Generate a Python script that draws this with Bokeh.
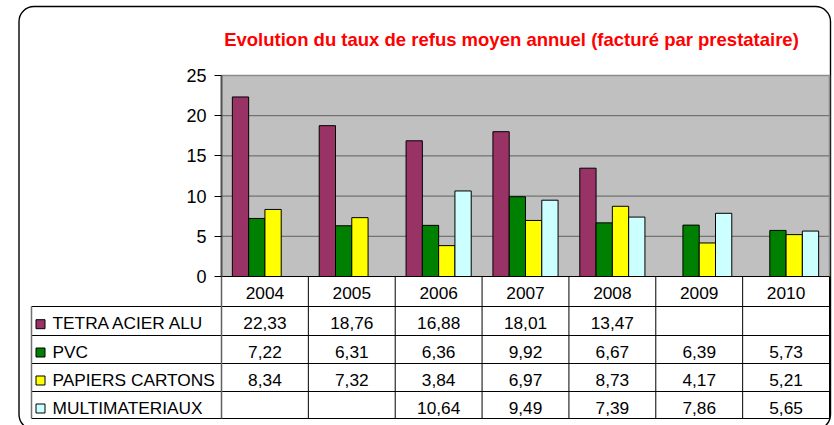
from bokeh.plotting import figure
from bokeh.models import Range1d, LinearAxis, FixedTicker, ColumnDataSource, BoxAnnotation
from bokeh.core.properties import value
from bokeh.transform import dodge
from bokeh.embed import file_html
from bokeh.resources import INLINE

# ---------------- data ----------------
years = ["2004", "2005", "2006", "2007", "2008", "2009", "2010"]
series_names = ["TETRA ACIER ALU", "PVC", "PAPIERS CARTONS", "MULTIMATERIAUX"]
tetra = [22.33, 18.76, 16.88, 18.01, 13.47, None, None]
pvc = [7.22, 6.31, 6.36, 9.92, 6.67, 6.39, 5.73]
papiers = [8.34, 7.32, 3.84, 6.97, 8.73, 4.17, 5.21]
multi = [None, None, 10.64, 9.49, 7.39, 7.86, 5.65]
y_ticks = [0, 5, 10, 15, 20, 25]
title_text = "Evolution du taux de refus moyen annuel (facturé par prestataire)"

series = [tetra, pvc, papiers, multi]
colors = ["#993366", "#008000", "#FFFF00", "#CCFFFF"]

# ---------------- layout (pixels of the figure) ----------------
W, H = 834, 425
PX_LEFT, PX_RIGHT = 221, 829          # plot area
PY_TOP, PY_ZERO = 75, 276             # y=25 and y=0
n = len(years)
xs = (PX_RIGHT - PX_LEFT) / n         # px per category
ymax = y_ticks[-1]
ys = (PY_ZERO - PY_TOP) / ymax        # px per unit

def X(px):
    return (px - PX_LEFT) / xs

def Y(py):
    return (PY_ZERO - py) / ys

FONT = "Liberation Sans"
TFS = "17.3px"

p = figure(width=W, height=H, output_backend="svg", toolbar_location=None,
           x_range=Range1d(X(0), X(W)), y_range=Range1d(Y(H), Y(0)),
           x_axis_type=None, y_axis_type=None, min_border=0,
           outline_line_color=None, background_fill_color="white",
           border_fill_color="white")
p.xgrid.visible = False
p.ygrid.visible = False

# outer rounded frame
p.add_layout(BoxAnnotation(left=X(18.5), right=X(830), top=Y(6), bottom=Y(429),
                           fill_color=None, fill_alpha=0, line_color="black", line_alpha=1,
                           line_width=1.4, border_radius=15, level="underlay"))

# plot background
p.quad(left=[0], right=[n], bottom=[0], top=[ymax], fill_color="#C0C0C0", line_color=None)

# gridlines
grid_vals = [t for t in y_ticks if 0 < t < ymax]
p.segment(x0=[0] * len(grid_vals), x1=[n] * len(grid_vals), y0=grid_vals, y1=grid_vals,
          line_color="#5f5f5f", line_width=1)

# bars
bw = 0.1875
for i, (vals, col) in enumerate(zip(series, colors)):
    xi = [k + 0.5 for k, v in enumerate(vals) if v is not None]
    vv = [v for v in vals if v is not None]
    src = ColumnDataSource(dict(x=xi, top=vv))
    p.vbar(x=dodge("x", (i - 1.5) * bw, range=p.x_range), top="top", bottom=0, width=bw,
           source=src, fill_color=col, line_color="black", line_width=1)

# plot border (top, right) gray
p.segment(x0=[0, n], x1=[n, n], y0=[ymax, ymax], y1=[ymax, 0], line_color="#8a8a8a", line_width=1.5)

# table
row_px = [PY_ZERO, 306, 335, 363, 391, 418]
row_y = [Y(v) for v in row_px]
mid_px = [292, 322.7, 351, 379, 407]
mid_y = [Y(v) for v in mid_px]
tl = X(31)
# horizontal lines
p.segment(x0=[0], x1=[n], y0=[0], y1=[0], line_color="black", line_width=1)
p.segment(x0=[tl] * 5, x1=[n] * 5, y0=row_y[1:], y1=row_y[1:], line_color="black", line_width=1)
# vertical lines
p.segment(x0=list(range(1, n + 1)), x1=list(range(1, n + 1)), y0=[0] * n, y1=[row_y[-1]] * n,
          line_color="black", line_width=1)
p.segment(x0=[0], x1=[0], y0=[0], y1=[row_y[-1]], line_color="#606060", line_width=1.5)
p.segment(x0=[tl], x1=[tl], y0=[row_y[1]], y1=[row_y[-1]], line_color="#707070", line_width=1.5)

# header labels
p.text(x=[k + 0.5 for k in range(n)], y=[mid_y[0]] * n, text=years,
       text_font=value(FONT), text_font_size=TFS, text_align="center",
       text_baseline="middle", text_color="black")

# rows
for r, (name, vals, col) in enumerate(zip(series_names, series, colors)):
    cy = mid_y[r + 1]
    p.scatter(x=[X(40)], y=[Y(mid_px[r + 1] + 1)], marker="square", size=9, fill_color=col,
              line_color="black", line_width=1)
    p.text(x=[X(52)], y=[cy], text=[name], text_font=value(FONT), text_font_size=TFS,
           text_align="left", text_baseline="middle", text_color="black")
    xi = [k + 0.5 for k, v in enumerate(vals) if v is not None]
    labels = [f"{v:.2f}".replace(".", ",") for v in vals if v is not None]
    p.text(x=xi, y=[cy] * len(xi), text=labels, text_font=value(FONT), text_font_size=TFS,
           text_align="center", text_baseline="middle", text_color="black")

# title
p.text(x=[X(511)], y=[Y(39)], text=[title_text], text_font=value(FONT), text_font_size="18.5px",
       text_font_style="bold", text_color="#FF0000", text_align="center", text_baseline="middle")

# y axis
yaxis = LinearAxis(fixed_location=0, bounds=(0, ymax), ticker=FixedTicker(ticks=y_ticks))
yaxis.axis_line_color = "#505050"
yaxis.axis_line_width = 2
yaxis.major_tick_line_color = "black"
yaxis.major_tick_in = 0
yaxis.major_tick_out = 7
yaxis.minor_tick_line_color = None
yaxis.major_label_standoff = 8
yaxis.major_label_text_font = FONT
yaxis.major_label_text_font_size = "18px"
yaxis.major_label_text_color = "black"
p.add_layout(yaxis, "left")

open("out.html", "w").write(file_html(p, INLINE))
